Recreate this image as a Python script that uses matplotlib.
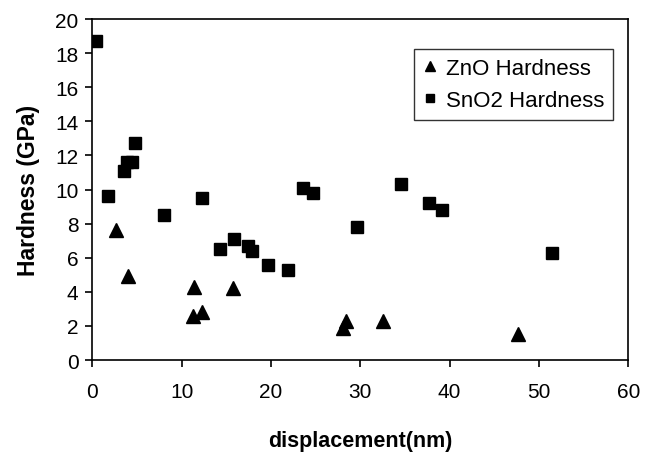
import matplotlib
matplotlib.use("Agg")
from matplotlib import pyplot as plt

plt.rcParams['font.family'] = ['Liberation Sans', 'DejaVu Sans']

# SnO2 hardness (displacement nm, hardness GPa)
sno2_x = [0.4, 1.7, 3.5, 3.9, 4.4, 4.8, 8.0, 12.3, 14.3, 15.9, 17.4, 17.9,
          19.7, 21.9, 23.6, 24.7, 29.6, 34.6, 37.7, 39.1, 51.4]
sno2_y = [18.7, 9.6, 11.1, 11.6, 11.6, 12.7, 8.5, 9.5, 6.5, 7.1, 6.7, 6.4,
          5.6, 5.3, 10.1, 9.8, 7.8, 10.3, 9.2, 8.8, 6.3]

# ZnO hardness
zno_x = [2.7, 4.0, 11.4, 11.3, 12.3, 15.8, 28.1, 28.4, 32.5, 47.6]
zno_y = [7.6, 4.9, 4.3, 2.6, 2.8, 4.2, 1.9, 2.3, 2.3, 1.5]

fig = plt.figure(figsize=(6.52, 4.6), dpi=100)
ax = fig.add_axes([0.1416, 0.2152, 0.8221, 0.7413])

ax.plot(zno_x, zno_y, 'k^', markersize=10, linestyle='none', label='ZnO Hardness')
ax.plot(sno2_x, sno2_y, 'ks', markersize=8, linestyle='none', label='SnO2 Hardness')

ax.set_xlim(0, 60)
ax.set_ylim(0, 20)
ax.set_xticks(range(0, 61, 10))
ax.set_yticks(range(0, 21, 2))
ax.tick_params(direction='out', length=5, width=1.2, labelsize=15, colors='black')
ax.tick_params(axis='x', pad=11)
ax.tick_params(axis='y', pad=5)
for s in ax.spines.values():
    s.set_linewidth(1.2)

ax.set_xlabel('displacement(nm)', fontsize=15.5, fontweight='bold', labelpad=21)
ax.set_ylabel('Hardness (GPa)', fontsize=16.5, fontweight='bold', labelpad=11)

leg = ax.legend(loc='upper right', bbox_to_anchor=(0.971, 0.912), borderaxespad=0,
                fontsize=16, frameon=True, fancybox=False, edgecolor='black',
                markerscale=0.65, handlelength=0.6, handletextpad=0.4,
                borderpad=0.4, labelspacing=0.5)
leg.get_frame().set_linewidth(1.0)

fig.savefig('out.png', dpi=100)
